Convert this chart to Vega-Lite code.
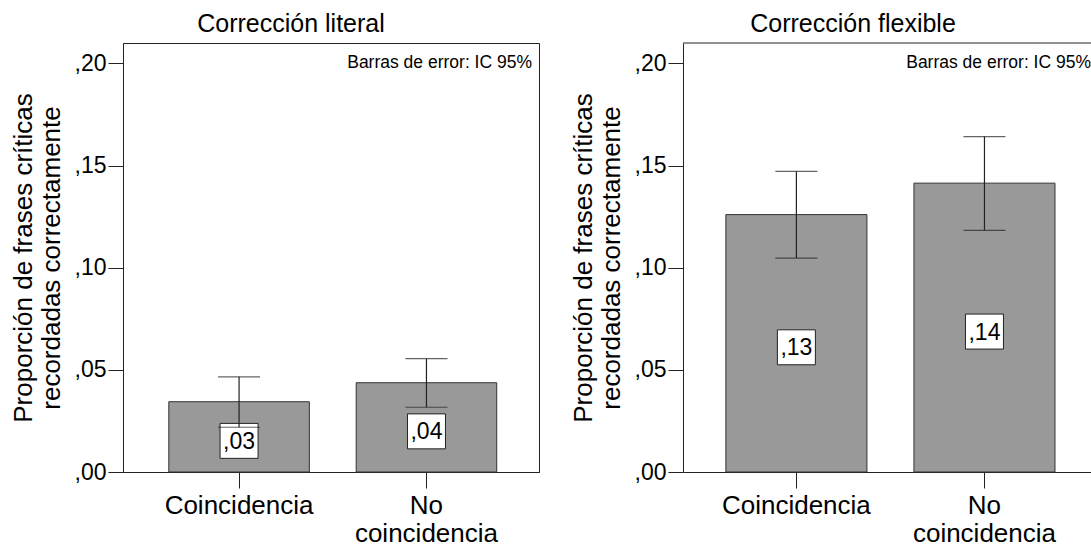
{
  "$schema": "https://vega.github.io/schema/vega-lite/v6.json",
  "padding": {"left": 9, "top": 11, "right": 0, "bottom": 0},
  "spacing": 30,
  "background": "white",
  "config": {
    "font": "Liberation Sans",
    "view": {"stroke": "#222", "strokeWidth": 1},
    "axis": {
      "domainColor": "#222",
      "tickColor": "#222",
      "labelColor": "#000",
      "titleColor": "#000",
      "grid": false,
      "labelFont": "Liberation Sans",
      "titleFont": "Liberation Sans",
      "titleFontWeight": "normal"
    },
    "title": {"font": "Liberation Sans", "fontSize": 25, "fontWeight": "normal", "color": "#000"}
  },
  "data": {
    "values": [
      {"panel": "Corrección literal", "grupo": "Coincidencia", "media": 0.0344, "inferior": 0.0219, "superior": 0.0466},
      {"panel": "Corrección literal", "grupo": "No coincidencia", "media": 0.0437, "inferior": 0.0317, "superior": 0.0555},
      {"panel": "Corrección flexible", "grupo": "Coincidencia", "media": 0.1260, "inferior": 0.1047, "superior": 0.1472},
      {"panel": "Corrección flexible", "grupo": "No coincidencia", "media": 0.1414, "inferior": 0.1183, "superior": 0.1642}
    ]
  },
  "transform": [
    {"calculate": "datum.media / 2", "as": "centro"},
    {"calculate": "replace(format(datum.media, '.2f'), '0.', ',')", "as": "etiqueta"}
  ],
  "hconcat": [
    {
      "width": 416,
      "height": 429,
      "title": {"text": "Corrección literal", "anchor": "middle", "frame": "group", "dx": -40, "offset": 6},
      "transform": [{"filter": "datum.panel === 'Corrección literal'"}],
      "encoding": {
        "x": {
          "field": "grupo", "type": "nominal", "sort": null,
          "scale": {"paddingInner": 0.25, "paddingOuter": 0.235, "align": 0.52},
          "axis": {"title": null, "labelAngle": 0, "labelFontSize": 26, "tickSize": 16, "labelPadding": 4, "labelLineHeight": 28, "labelExpr": "split(datum.label, ' ')"}
        }
      },
      "layer": [
        {
          "mark": {"type": "bar", "fill": "#999999", "stroke": "#333", "strokeWidth": 1},
          "encoding": {
            "y": {
              "field": "media", "type": "quantitative",
              "scale": {"domain": [0, 0.21], "nice": false},
              "axis": {
                "values": [0, 0.05, 0.1, 0.15, 0.2],
                "labelExpr": "replace(format(datum.value, '.2f'), '0.', ',')",
                "labelFontSize": 23, "tickSize": 15, "labelPadding": 2,
                "title": ["Proporción de frases críticas", "recordadas correctamente"],
                "titleFontSize": 26, "titleLineHeight": 28, "titlePadding": 10
              }
            }
          }
        },
        {
          "mark": {"type": "point", "shape": "M-1,-0.92L1,-0.92L1,0.92L-1,0.92Z", "size": 1444, "filled": true, "fill": "white", "stroke": "#222", "strokeWidth": 1, "opacity": 1, "yOffset": 4},
          "encoding": {"y": {"field": "centro", "type": "quantitative"}}
        },
        {
          "mark": {"type": "text", "fontSize": 23, "baseline": "middle", "color": "#000", "yOffset": 5},
          "encoding": {"y": {"field": "centro", "type": "quantitative"}, "text": {"field": "etiqueta"}}
        },
        {
          "mark": {"type": "rule", "color": "#222", "strokeWidth": 1.2},
          "encoding": {"y": {"field": "inferior", "type": "quantitative"}, "y2": {"field": "superior"}}
        },
        {
          "mark": {"type": "tick", "color": "#222", "size": 42, "thickness": 1.2},
          "encoding": {"y": {"field": "inferior", "type": "quantitative"}}
        },
        {
          "mark": {"type": "tick", "color": "#222", "size": 42, "thickness": 1.2},
          "encoding": {"y": {"field": "superior", "type": "quantitative"}}
        },
        {
          "data": {"values": [{"nota": "Barras de error: IC 95%"}]},
          "mark": {"type": "text", "fontSize": 17.5, "align": "right", "baseline": "middle", "dx": -7, "color": "#000"},
          "encoding": {"x": {"value": "width"}, "y": {"datum": 0.2, "type": "quantitative"}, "text": {"field": "nota"}}
        }
      ]
    },
    {
      "width": 410,
      "height": 429,
      "view": {"stroke": null},
      "title": {"text": "Corrección flexible", "anchor": "middle", "frame": "group", "dx": -35, "offset": 6},
      "transform": [{"filter": "datum.panel === 'Corrección flexible'"}],
      "encoding": {
        "x": {
          "field": "grupo", "type": "nominal", "sort": null,
          "scale": {"paddingInner": 0.25, "paddingOuter": 0.215, "align": 0.53},
          "axis": {"title": null, "labelAngle": 0, "labelFontSize": 26, "tickSize": 16, "labelPadding": 4, "labelLineHeight": 28, "labelExpr": "split(datum.label, ' ')"}
        }
      },
      "layer": [
        {
          "mark": {"type": "bar", "fill": "#999999", "stroke": "#333", "strokeWidth": 1},
          "encoding": {
            "y": {
              "field": "media", "type": "quantitative",
              "scale": {"domain": [0, 0.21], "nice": false},
              "axis": {
                "values": [0, 0.05, 0.1, 0.15, 0.2],
                "labelExpr": "replace(format(datum.value, '.2f'), '0.', ',')",
                "labelFontSize": 23, "tickSize": 15, "labelPadding": 2,
                "title": ["Proporción de frases críticas", "recordadas correctamente"],
                "titleFontSize": 26, "titleLineHeight": 28, "titlePadding": 10
              }
            }
          }
        },
        {
          "data": {"values": [{"borde": 0.21}]},
          "mark": {"type": "rule", "color": "#222", "strokeWidth": 1},
          "encoding": {"x": {"value": 0}, "x2": {"value": "width"}, "y": {"field": "borde", "type": "quantitative"}}
        },
        {
          "mark": {"type": "point", "shape": "M-1,-0.92L1,-0.92L1,0.92L-1,0.92Z", "size": 1444, "filled": true, "fill": "white", "stroke": "#222", "strokeWidth": 1, "opacity": 1, "yOffset": 4},
          "encoding": {"y": {"field": "centro", "type": "quantitative"}}
        },
        {
          "mark": {"type": "text", "fontSize": 23, "baseline": "middle", "color": "#000", "yOffset": 5},
          "encoding": {"y": {"field": "centro", "type": "quantitative"}, "text": {"field": "etiqueta"}}
        },
        {
          "mark": {"type": "rule", "color": "#222", "strokeWidth": 1.2},
          "encoding": {"y": {"field": "inferior", "type": "quantitative"}, "y2": {"field": "superior"}}
        },
        {
          "mark": {"type": "tick", "color": "#222", "size": 42, "thickness": 1.2},
          "encoding": {"y": {"field": "inferior", "type": "quantitative"}}
        },
        {
          "mark": {"type": "tick", "color": "#222", "size": 42, "thickness": 1.2},
          "encoding": {"y": {"field": "superior", "type": "quantitative"}}
        },
        {
          "data": {"values": [{"nota": "Barras de error: IC 95%"}]},
          "mark": {"type": "text", "fontSize": 17.5, "align": "right", "baseline": "middle", "dx": -2, "color": "#000"},
          "encoding": {"x": {"value": "width"}, "y": {"datum": 0.2, "type": "quantitative"}, "text": {"field": "nota"}}
        }
      ]
    }
  ]
}
